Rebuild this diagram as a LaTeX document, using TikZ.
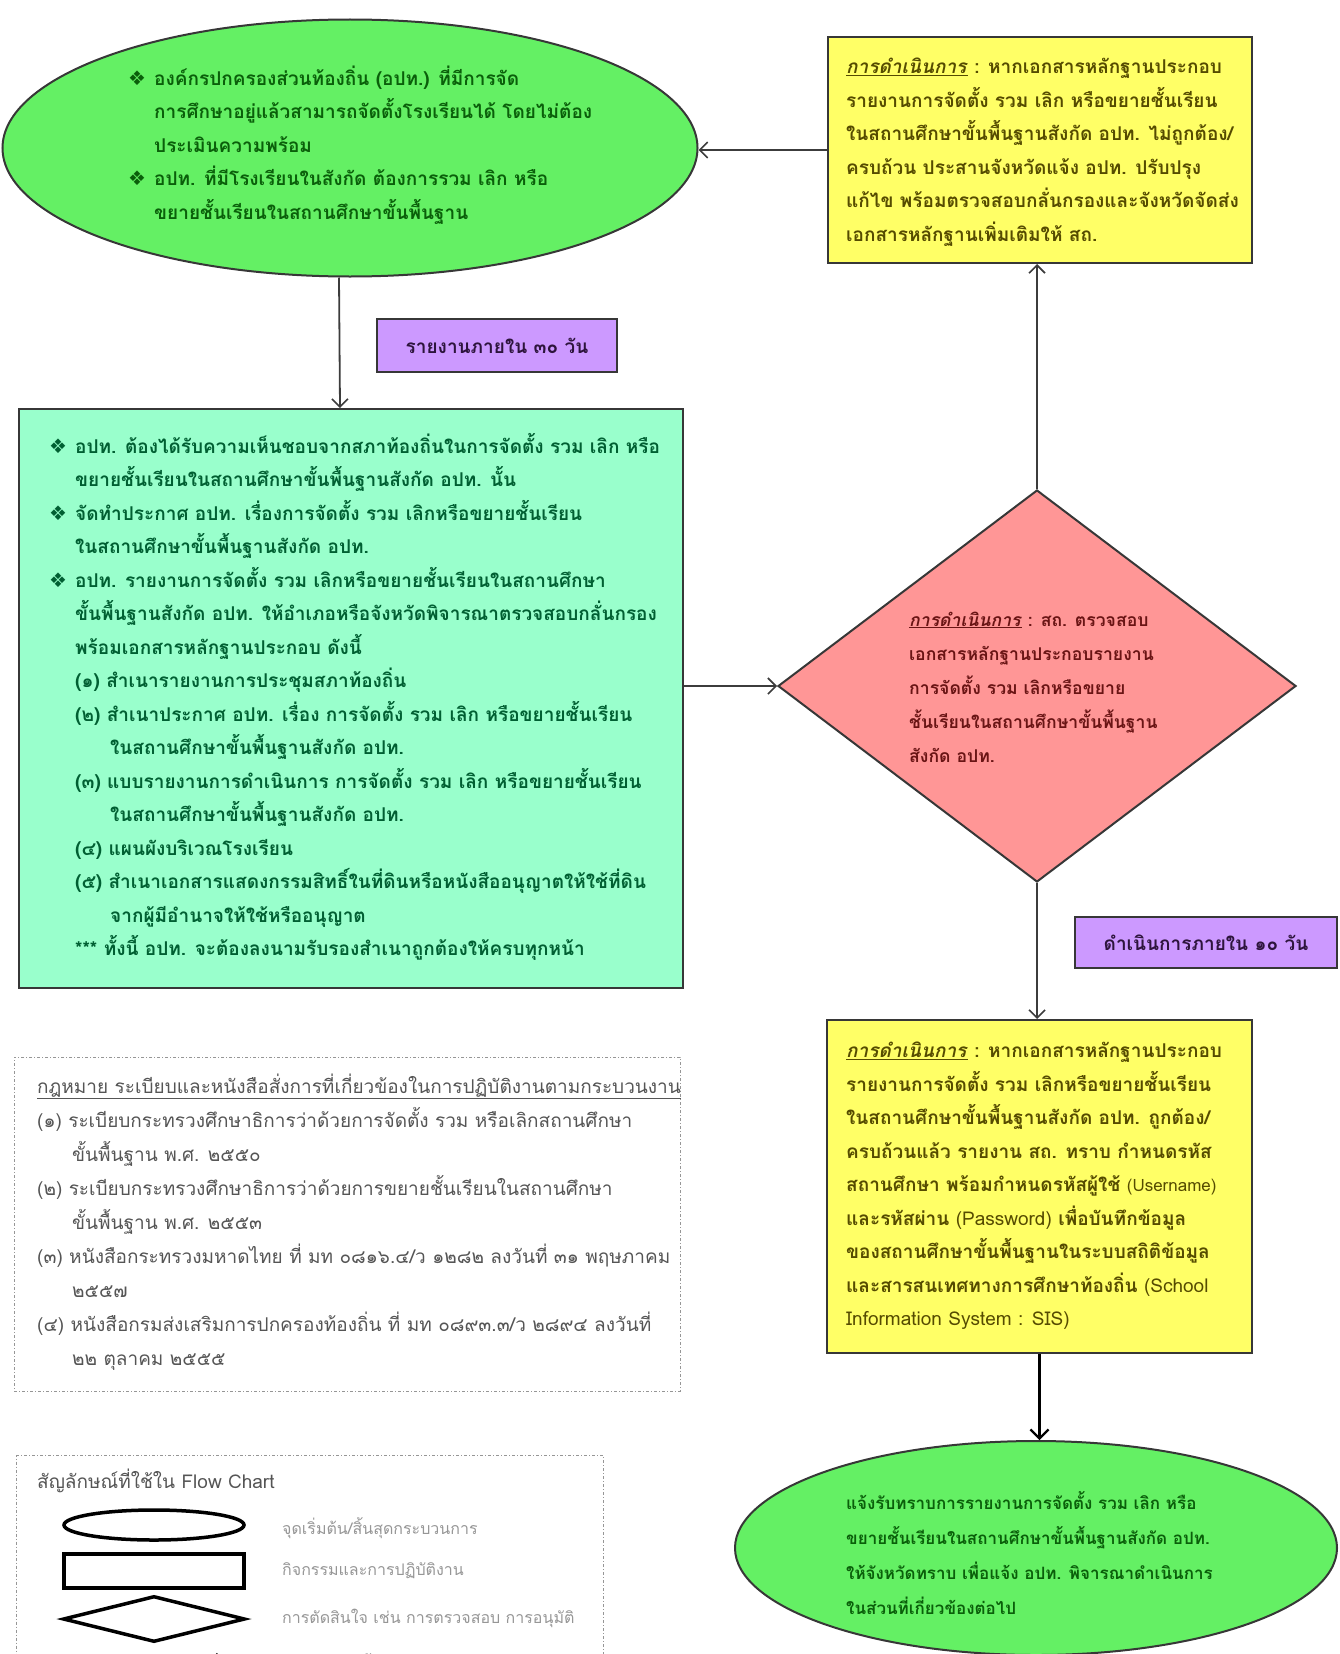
\documentclass[tikz,border=0pt]{standalone}
\usepackage{fontspec}
\usetikzlibrary{shapes.geometric,arrows.meta}
\newfontfamily\thai[Script=Thai]{Loma}
\newfontfamily\dejavu{DejaVu Sans}
\definecolor{ellfill}{RGB}{100,240,100}
\definecolor{elltext}{RGB}{10,95,10}
\definecolor{aquafill}{RGB}{153,255,204}
\definecolor{aquatext}{RGB}{0,95,50}
\definecolor{yelfill}{RGB}{255,255,102}
\definecolor{yeltext}{RGB}{85,75,0}
\definecolor{pinkfill}{RGB}{255,150,150}
\definecolor{pinktext}{RGB}{105,20,20}
\definecolor{purfill}{RGB}{204,153,255}
\definecolor{purtext}{RGB}{45,20,60}
\definecolor{bord}{RGB}{55,55,55}
\definecolor{linec}{RGB}{60,60,60}
\definecolor{lawtext}{RGB}{85,85,85}
\definecolor{symtext}{RGB}{150,150,150}
\definecolor{dashc}{RGB}{150,150,150}
\newcommand\mybul{\makebox[26pt][l]{\dejavu\fontsize{20}{20}\selectfont ❖}}
\newcommand\myind{\hspace*{26pt}}
\newcommand\myop{\underline{\textit{การดำเนินการ}}}
\begin{document}
\begin{tikzpicture}[x=1pt,y=-1pt,
  shp/.style={draw=bord, line width=2pt, inner sep=0pt},
  arr/.style={draw=linec, line width=1.8pt, -{Straight Barb[length=8pt,width=16pt,line width=1.6pt]}},
  txt/.style={inner sep=0pt, align=left, anchor=west, font=\thai\bfseries\fontsize{19}{33.5}\selectfont},
  lawstyle/.style={inner sep=0pt, align=left, anchor=west, text=lawtext, font=\thai\fontsize{19}{34}\selectfont},
  dashbox/.style={draw=dashc, line width=1pt, dash pattern=on 3pt off 2pt on 1pt off 2pt},
  legshape/.style={draw=black, line width=3.5pt, fill=white, inner sep=0pt},
  purbox/.style={shp, fill=purfill, text=purtext, font=\thai\bfseries\fontsize{19}{24}\selectfont}]
\path[use as bounding box] (0,0) rectangle (1339,1654);
\clip (0,0) rectangle (1339,1654);

% shapes
\node[shp, ellipse, fill=ellfill, minimum width=695pt, minimum height=257pt] (e1) at (350,148) {};
\node[shp, rectangle, fill=yelfill, minimum width=424pt, minimum height=226pt] (y1) at (1040,150) {};
\node[shp, rectangle, fill=aquafill, minimum width=664pt, minimum height=579pt] (g) at (351,698.5) {};
\node[shp, diamond, fill=pinkfill, minimum width=518pt, minimum height=392pt] (d) at (1037,686) {};
\node[shp, rectangle, fill=yelfill, minimum width=425pt, minimum height=333pt] (y2) at (1039.5,1186.5) {};
\node[shp, ellipse, fill=ellfill, minimum width=602pt, minimum height=214pt] (e2) at (1036,1548) {};
\node[purbox, minimum width=240pt, minimum height=53pt] (p1) at (497,345.5) {รายงานภายใน ๓๐ วัน};
\node[purbox, minimum width=262pt, minimum height=51pt] (p2) at (1206,942.5) {ดำเนินการภายใน ๑๐ วัน};

% connectors
\draw[arr] (y1.west) -- (y1.west -| e1.east);
\draw[arr] ([xshift=-11pt]e1.south) -- ([xshift=-11pt]g.north);
\draw[arr] (g.east |- d.west) -- (d.west);
\draw[arr] (d.north) -- (d.north |- y1.south);
\draw[arr] (d.south) -- (d.south |- y2.north);
\draw[draw=black, line width=3pt, -{Straight Barb[length=9pt,width=18pt,line width=2.2pt]}] (y2.south) -- (y2.south |- e2.north);

% texts
\node[txt, text=elltext] (t1) at (128,145) {%
\mybul องค์กรปกครองส่วนท้องถิ่น (อปท.) ที่มีการจัด\\
\myind การศึกษาอยู่แล้วสามารถจัดตั้งโรงเรียนได้ โดยไม่ต้อง\\
\myind ประเมินความพร้อม\\
\mybul อปท. ที่มีโรงเรียนในสังกัด ต้องการรวม เลิก หรือ\\
\myind ขยายชั้นเรียนในสถานศึกษาขั้นพื้นฐาน};

\node[txt, text=yeltext] (t2) at (846,152) {%
\myop{} : หากเอกสารหลักฐานประกอบ\\
รายงานการจัดตั้ง รวม เลิก หรือขยายชั้นเรียน\\
ในสถานศึกษาขั้นพื้นฐานสังกัด อปท. ไม่ถูกต้อง/\\
ครบถ้วน ประสานจังหวัดแจ้ง อปท. ปรับปรุง\\
แก้ไข พร้อมตรวจสอบกลั่นกรองและจังหวัดจัดส่ง\\
เอกสารหลักฐานเพิ่มเติมให้ สถ.};

\node[txt, text=aquatext] (t3) at (49,697) {%
\mybul อปท. ต้องได้รับความเห็นชอบจากสภาท้องถิ่นในการจัดตั้ง รวม เลิก หรือ\\
\myind ขยายชั้นเรียนในสถานศึกษาขั้นพื้นฐานสังกัด อปท. นั้น\\
\mybul จัดทำประกาศ อปท. เรื่องการจัดตั้ง รวม เลิกหรือขยายชั้นเรียน\\
\myind ในสถานศึกษาขั้นพื้นฐานสังกัด อปท.\\
\mybul อปท. รายงานการจัดตั้ง รวม เลิกหรือขยายชั้นเรียนในสถานศึกษา\\
\myind ขั้นพื้นฐานสังกัด อปท. ให้อำเภอหรือจังหวัดพิจารณาตรวจสอบกลั่นกรอง\\
\myind พร้อมเอกสารหลักฐานประกอบ ดังนี้\\
\myind (๑) สำเนารายงานการประชุมสภาท้องถิ่น\\
\myind (๒) สำเนาประกาศ อปท. เรื่อง การจัดตั้ง รวม เลิก หรือขยายชั้นเรียน\\
\myind\hspace*{35pt}ในสถานศึกษาขั้นพื้นฐานสังกัด อปท.\\
\myind (๓) แบบรายงานการดำเนินการ การจัดตั้ง รวม เลิก หรือขยายชั้นเรียน\\
\myind\hspace*{35pt}ในสถานศึกษาขั้นพื้นฐานสังกัด อปท.\\
\myind (๔) แผนผังบริเวณโรงเรียน\\
\myind (๕) สำเนาเอกสารแสดงกรรมสิทธิ์ในที่ดินหรือหนังสืออนุญาตให้ใช้ที่ดิน\\
\myind\hspace*{35pt}จากผู้มีอำนาจให้ใช้หรืออนุญาต\\
\myind *** ทั้งนี้ อปท. จะต้องลงนามรับรองสำเนาถูกต้องให้ครบทุกหน้า};

\node[txt, text=pinktext, font=\thai\bfseries\fontsize{17.6}{34}\selectfont] (t4) at (909,687) {%
\myop{} : สถ. ตรวจสอบ\\
เอกสารหลักฐานประกอบรายงาน\\
การจัดตั้ง รวม เลิกหรือขยาย\\
ชั้นเรียนในสถานศึกษาขั้นพื้นฐาน\\
สังกัด อปท.};

\node[txt, text=yeltext] (t5) at (846,1186) {%
\myop{} : หากเอกสารหลักฐานประกอบ\\
รายงานการจัดตั้ง รวม เลิกหรือขยายชั้นเรียน\\
ในสถานศึกษาขั้นพื้นฐานสังกัด อปท. ถูกต้อง/\\
ครบถ้วนแล้ว รายงาน สถ. ทราบ กำหนดรหัส\\
สถานศึกษา พร้อมกำหนดรหัสผู้ใช้ {\mdseries\fontsize{17}{33.5}\selectfont(Username)}\\
และรหัสผ่าน {\mdseries(Password)} เพื่อบันทึกข้อมูล\\
ของสถานศึกษาขั้นพื้นฐานในระบบสถิติข้อมูล\\
และสารสนเทศทางการศึกษาท้องถิ่น {\mdseries(School}\\
{\mdseries Information System : SIS)}};

\node[txt, text=elltext, font=\thai\bfseries\fontsize{17}{35}\selectfont] (t6) at (846,1553) {%
แจ้งรับทราบการรายงานการจัดตั้ง รวม เลิก หรือ\\
ขยายชั้นเรียนในสถานศึกษาขั้นพื้นฐานสังกัด อปท.\\
ให้จังหวัดทราบ เพื่อแจ้ง อปท. พิจารณาดำเนินการ\\
ในส่วนที่เกี่ยวข้องต่อไป};

% laws box
\node[dashbox, minimum width=666pt, minimum height=334pt, inner sep=0pt] (lb) at (347,1224) {};
\node[lawstyle] (t7) at (37,1222) {%
\underline{กฎหมาย ระเบียบและหนังสือสั่งการที่เกี่ยวข้องในการปฏิบัติงานตามกระบวนงาน}\\
(๑) ระเบียบกระทรวงศึกษาธิการว่าด้วยการจัดตั้ง รวม หรือเลิกสถานศึกษา\\
\hspace*{35pt}ขั้นพื้นฐาน พ.ศ. ๒๕๕๐\\
(๒) ระเบียบกระทรวงศึกษาธิการว่าด้วยการขยายชั้นเรียนในสถานศึกษา\\
\hspace*{35pt}ขั้นพื้นฐาน พ.ศ. ๒๕๕๓\\
(๓) หนังสือกระทรวงมหาดไทย ที่ มท ๐๘๑๖.๔/ว ๑๒๘๒ ลงวันที่ ๓๑ พฤษภาคม\\
\hspace*{35pt}๒๕๕๗\\
(๔) หนังสือกรมส่งเสริมการปกครองท้องถิ่น ที่ มท ๐๘๙๓.๓/ว ๒๘๙๔ ลงวันที่\\
\hspace*{35pt}๒๒ ตุลาคม ๒๕๕๕};

% symbols legend
\node[dashbox, minimum width=587pt, minimum height=260pt, inner sep=0pt, anchor=north west] (sb) at (16,1455) {};
\node[inner sep=0pt, anchor=west, text=lawtext, font=\thai\fontsize{19}{24}\selectfont] (st) at (37,1481) {สัญลักษณ์ที่ใช้ใน Flow Chart};
\node[legshape, ellipse, minimum width=180pt, minimum height=30pt] (le) at (154,1525) {};
\node[legshape, rectangle, minimum width=180pt, minimum height=34pt] (lr) at (154,1571) {};
\node[legshape, diamond, minimum width=182pt, minimum height=46pt] (ld) at (154,1619) {};
\coordinate (la1) at (63,1664);
\coordinate (la2) at (228,1664);
\draw[draw=black, line width=3.5pt, -{Straight Barb[length=10pt,width=20pt,line width=3pt]}] (la1) -- (la2);
\node[inner sep=0pt, anchor=west, text=symtext, font=\thai\fontsize{16}{20}\selectfont] (s1) at (282,1528) {จุดเริ่มต้น/สิ้นสุดกระบวนการ};
\node[inner sep=0pt, anchor=west, text=symtext, font=\thai\fontsize{16}{20}\selectfont] (s2) at (282,1571) {กิจกรรมและการปฏิบัติงาน};
\node[inner sep=0pt, anchor=west, text=symtext, font=\thai\fontsize{16}{20}\selectfont] (s3) at (282,1618) {การตัดสินใจ เช่น การตรวจสอบ การอนุมัติ};
\node[inner sep=0pt, anchor=west, text=symtext, font=\thai\fontsize{16}{20}\selectfont] (s4) at (282,1664) {แสดงลำดับขั้นตอนและทิศทางของการปฏิบัติงาน};
\end{tikzpicture}
\end{document}
